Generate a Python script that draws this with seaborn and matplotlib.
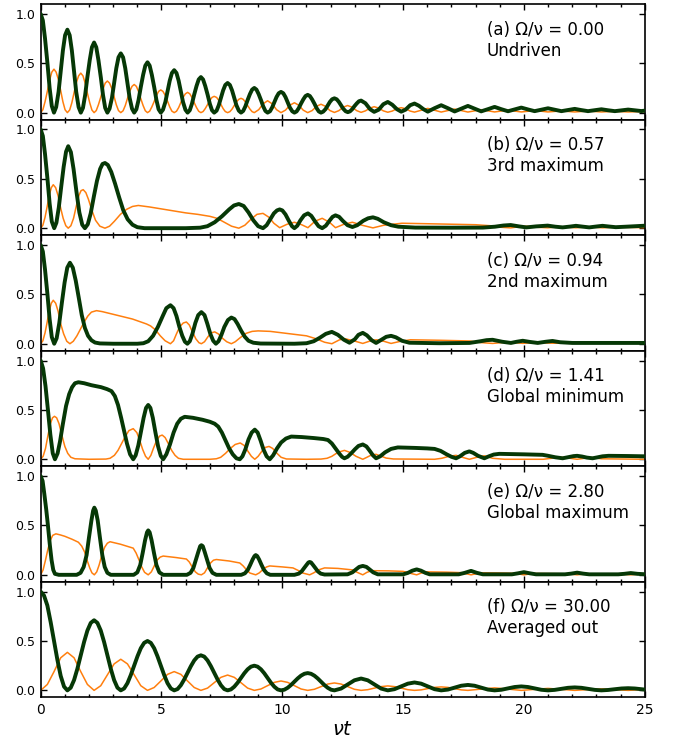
import matplotlib
matplotlib.use("Agg")
import matplotlib.pyplot as plt
import seaborn as sns
import pandas as pd
from matplotlib.ticker import MultipleLocator

# ---------------- data (time nu*t, value) ----------------
panel_labels = ["(a) Ω/ν = 0.00\nUndriven",
                "(b) Ω/ν = 0.57\n3rd maximum",
                "(c) Ω/ν = 0.94\n2nd maximum",
                "(d) Ω/ν = 1.41\nGlobal minimum",
                "(e) Ω/ν = 2.80\nGlobal maximum",
                "(f) Ω/ν = 30.00\nAveraged out"]

x_ticks = [0, 5, 10, 15, 20, 25]
y_ticks = [0.0, 0.5, 1.0]
y_tick_labels = ["0.0", "0.5", "1.0"]

green_a = [(0.0, 1.0), (0.09, 0.933), (0.18, 0.75), (0.28, 0.50), (0.37, 0.25), (0.46, 0.067), (0.55, 0.0),
           (0.64, 0.056), (0.74, 0.21), (0.83, 0.42), (0.92, 0.63), (1.01, 0.784), (1.105, 0.84),
           (1.20, 0.784), (1.29, 0.63), (1.38, 0.42), (1.47, 0.21), (1.57, 0.056), (1.66, 0.0),
           (1.75, 0.048), (1.84, 0.178), (1.93, 0.355), (2.03, 0.532), (2.12, 0.662), (2.21, 0.71),
           (2.30, 0.662), (2.39, 0.532), (2.49, 0.355), (2.58, 0.178), (2.67, 0.048), (2.76, 0.0),
           (2.85, 0.04), (2.95, 0.15), (3.04, 0.30), (3.13, 0.45), (3.22, 0.56), (3.315, 0.60),
           (3.41, 0.56), (3.50, 0.45), (3.59, 0.30), (3.68, 0.15), (3.78, 0.04), (3.87, 0.0),
           (3.96, 0.034), (4.05, 0.128), (4.14, 0.255), (4.24, 0.383), (4.33, 0.476), (4.42, 0.51),
           (4.51, 0.476), (4.60, 0.383), (4.70, 0.255), (4.79, 0.128), (4.88, 0.034), (4.97, 0.0),
           (5.06, 0.029), (5.16, 0.108), (5.25, 0.215), (5.34, 0.323), (5.43, 0.401), (5.525, 0.43),
           (5.62, 0.401), (5.71, 0.323), (5.80, 0.215), (5.89, 0.108), (5.99, 0.029), (6.08, 0.0),
           (6.17, 0.024), (6.26, 0.09), (6.35, 0.18), (6.45, 0.27), (6.54, 0.336), (6.63, 0.36),
           (6.72, 0.336), (6.81, 0.27), (6.91, 0.18), (7.00, 0.09), (7.09, 0.024), (7.18, 0.0),
           (7.28, 0.02), (7.37, 0.075), (7.46, 0.15), (7.55, 0.225), (7.64, 0.28), (7.735, 0.30),
           (7.83, 0.28), (7.92, 0.225), (8.01, 0.15), (8.10, 0.075), (8.20, 0.02), (8.29, 0.0),
           (8.38, 0.017), (8.47, 0.063), (8.56, 0.125), (8.66, 0.188), (8.75, 0.233), (8.84, 0.25),
           (8.93, 0.233), (9.02, 0.188), (9.12, 0.125), (9.21, 0.063), (9.30, 0.017), (9.39, 0.0),
           (9.49, 0.014), (9.58, 0.053), (9.67, 0.105), (9.76, 0.158), (9.85, 0.196), (9.945, 0.21),
           (10.04, 0.196), (10.13, 0.158), (10.22, 0.105), (10.31, 0.053), (10.41, 0.014), (10.50, 0.0),
           (10.59, 0.012), (10.68, 0.045), (10.77, 0.09), (10.87, 0.135), (10.96, 0.168), (11.05, 0.18),
           (11.14, 0.168), (11.23, 0.135), (11.33, 0.09), (11.42, 0.045), (11.51, 0.012), (11.60, 0.0),
           (11.69, 0.01), (11.79, 0.036), (11.88, 0.073), (11.97, 0.109), (12.06, 0.135), (12.155, 0.145),
           (12.25, 0.135), (12.34, 0.109), (12.43, 0.075), (12.52, 0.04), (12.62, 0.014), (12.71, 0.005),
           (12.80, 0.013), (12.89, 0.034), (12.98, 0.064), (13.08, 0.093), (13.17, 0.115), (13.26, 0.122),
           (13.44, 0.095), (13.63, 0.035), (13.8, 0.008), (13.99, 0.03), (14.18, 0.085), (14.365, 0.108),
           (14.55, 0.08), (14.74, 0.035), (14.92, 0.01), (15.1, 0.03), (15.29, 0.075), (15.47, 0.092),
           (15.65, 0.07), (15.84, 0.035), (16.02, 0.01), (16.3, 0.045), (16.575, 0.075), (16.85, 0.045),
           (17.13, 0.012), (17.4, 0.04), (17.68, 0.068), (17.96, 0.04), (18.23, 0.013), (18.51, 0.035),
           (18.785, 0.058), (19.06, 0.035), (19.34, 0.014), (19.61, 0.032), (19.89, 0.051), (20.17, 0.032),
           (20.44, 0.015), (20.72, 0.03), (20.995, 0.044), (21.27, 0.03), (21.55, 0.015), (21.82, 0.026),
           (22.1, 0.038), (22.37, 0.026), (22.65, 0.015), (22.93, 0.025), (23.205, 0.034), (23.48, 0.024),
           (23.76, 0.015), (24.03, 0.023), (24.31, 0.031), (24.59, 0.023), (24.86, 0.016), (25.0, 0.02)]

orange_a = [(0.0, 0.0), (0.09, 0.029), (0.18, 0.11), (0.28, 0.22), (0.37, 0.33), (0.46, 0.41), (0.55, 0.44),
            (0.64, 0.41), (0.74, 0.33), (0.83, 0.22), (0.92, 0.11), (1.01, 0.029), (1.105, 0.0),
            (1.20, 0.027), (1.29, 0.10), (1.38, 0.20), (1.47, 0.30), (1.57, 0.373), (1.66, 0.40),
            (1.75, 0.373), (1.84, 0.30), (1.93, 0.20), (2.03, 0.10), (2.12, 0.027), (2.21, 0.0),
            (2.30, 0.021), (2.39, 0.08), (2.49, 0.16), (2.58, 0.24), (2.67, 0.299), (2.76, 0.32),
            (2.85, 0.299), (2.95, 0.24), (3.04, 0.16), (3.13, 0.08), (3.22, 0.021), (3.315, 0.0),
            (3.41, 0.019), (3.50, 0.071), (3.59, 0.143), (3.68, 0.214), (3.78, 0.266), (3.87, 0.285),
            (3.96, 0.266), (4.05, 0.214), (4.14, 0.143), (4.24, 0.071), (4.33, 0.019), (4.42, 0.0),
            (4.51, 0.015), (4.60, 0.058), (4.70, 0.115), (4.79, 0.173), (4.88, 0.215), (4.97, 0.23),
            (5.06, 0.215), (5.16, 0.173), (5.25, 0.115), (5.34, 0.058), (5.43, 0.015), (5.525, 0.0),
            (5.62, 0.014), (5.71, 0.051), (5.80, 0.103), (5.89, 0.154), (5.99, 0.191), (6.08, 0.205),
            (6.17, 0.191), (6.26, 0.154), (6.35, 0.103), (6.45, 0.051), (6.54, 0.014), (6.63, 0.0),
            (6.72, 0.011), (6.81, 0.041), (6.91, 0.083), (7.00, 0.124), (7.09, 0.154), (7.18, 0.165),
            (7.28, 0.154), (7.37, 0.124), (7.46, 0.083), (7.55, 0.041), (7.64, 0.011), (7.735, 0.0),
            (7.83, 0.01), (7.92, 0.036), (8.01, 0.073), (8.10, 0.109), (8.20, 0.135), (8.29, 0.145),
            (8.38, 0.135), (8.47, 0.109), (8.56, 0.073), (8.66, 0.036), (8.75, 0.01), (8.84, 0.0),
            (9.024, 0.03), (9.208, 0.09), (9.39, 0.12), (9.577, 0.09), (9.761, 0.03),
            (9.945, 0.0), (10.129, 0.025), (10.313, 0.075), (10.5, 0.10), (10.682, 0.075), (10.866, 0.025),
            (11.05, 0.0), (11.234, 0.021), (11.418, 0.064), (11.6, 0.085), (11.787, 0.064), (11.971, 0.021),
            (12.155, 0.002), (12.339, 0.02), (12.523, 0.055), (12.7, 0.072), (12.89, 0.055), (13.08, 0.02),
            (13.26, 0.003), (13.44, 0.018), (13.63, 0.046), (13.8, 0.06), (13.99, 0.046), (14.18, 0.018),
            (14.365, 0.004), (14.55, 0.016), (14.74, 0.04), (14.92, 0.05), (15.1, 0.04), (15.29, 0.016),
            (15.47, 0.005), (15.75, 0.024), (16.02, 0.043), (16.3, 0.024), (16.575, 0.006), (16.85, 0.021),
            (17.13, 0.036), (17.4, 0.021), (17.68, 0.006), (17.96, 0.018), (18.23, 0.03), (18.51, 0.018),
            (18.785, 0.007), (19.06, 0.016), (19.34, 0.026), (19.61, 0.016), (19.89, 0.007), (20.17, 0.014),
            (20.44, 0.022), (20.72, 0.014), (20.995, 0.007), (21.27, 0.012), (21.55, 0.018), (21.82, 0.012),
            (22.1, 0.007), (22.37, 0.011), (22.65, 0.016), (22.93, 0.011), (23.205, 0.007), (23.48, 0.010),
            (23.76, 0.013), (24.03, 0.010), (24.31, 0.007), (24.59, 0.009), (24.86, 0.011), (25.0, 0.01)]

green_b = [(0.0, 1.0), (0.09, 0.933), (0.18, 0.75), (0.28, 0.5), (0.37, 0.25), (0.46, 0.067), (0.56, 0.0),
           (0.65, 0.055), (0.75, 0.21), (0.85, 0.42), (0.95, 0.62), (1.05, 0.775), (1.14, 0.83),
           (1.25, 0.77), (1.36, 0.60), (1.48, 0.37), (1.6, 0.16), (1.72, 0.035), (1.83, 0.0),
           (1.95, 0.04), (2.07, 0.15), (2.2, 0.32), (2.33, 0.48), (2.46, 0.60), (2.56, 0.65), (2.66, 0.66),
           (2.78, 0.64), (2.92, 0.57), (3.08, 0.45), (3.25, 0.31), (3.42, 0.18), (3.6, 0.09), (3.8, 0.035),
           (4.0, 0.01), (4.3, 0.0), (5.0, 0.0), (6.0, 0.0), (6.6, 0.005), (6.9, 0.02), (7.2, 0.06),
           (7.5, 0.12), (7.8, 0.19), (8.0, 0.23), (8.2, 0.245), (8.4, 0.225), (8.6, 0.16), (8.8, 0.08),
           (9.0, 0.02), (9.2, 0.0), (9.35, 0.03), (9.5, 0.09), (9.65, 0.15), (9.78, 0.18), (9.89, 0.19),
           (10.0, 0.18), (10.13, 0.14), (10.27, 0.075), (10.4, 0.02), (10.5, 0.0), (10.62, 0.025),
           (10.75, 0.08), (10.9, 0.13), (11.06, 0.15), (11.2, 0.125), (11.35, 0.07), (11.5, 0.02),
           (11.65, 0.0), (11.8, 0.025), (11.95, 0.075), (12.08, 0.115), (12.2, 0.13), (12.35, 0.115),
           (12.5, 0.075), (12.7, 0.03), (12.9, 0.012), (13.1, 0.03), (13.35, 0.075), (13.55, 0.1),
           (13.75, 0.11), (13.95, 0.095), (14.2, 0.06), (14.5, 0.03), (14.8, 0.015), (15.5, 0.006),
           (17.0, 0.005), (18.3, 0.006), (18.8, 0.015), (19.15, 0.027), (19.45, 0.032), (19.8, 0.018),
           (20.1, 0.008), (20.5, 0.018), (20.98, 0.026), (21.3, 0.015), (21.6, 0.008), (21.9, 0.016),
           (22.15, 0.024), (22.45, 0.015), (22.7, 0.008), (23.0, 0.017), (23.25, 0.024), (23.55, 0.016),
           (23.8, 0.01), (24.3, 0.016), (25.0, 0.025)]

orange_b = [(0.0, 0.0), (0.09, 0.03), (0.18, 0.11), (0.27, 0.22), (0.35, 0.33), (0.44, 0.41), (0.52, 0.44),
            (0.62, 0.41), (0.72, 0.33), (0.83, 0.2), (0.93, 0.1), (1.04, 0.025), (1.14, 0.0),
            (1.25, 0.025), (1.36, 0.1), (1.47, 0.22), (1.58, 0.33), (1.67, 0.38), (1.76, 0.39),
            (1.87, 0.36), (1.98, 0.29), (2.12, 0.18), (2.27, 0.08), (2.45, 0.02), (2.66, 0.0),
            (2.85, 0.02), (3.05, 0.07), (3.3, 0.14), (3.55, 0.19), (3.8, 0.22), (4.04, 0.23),
            (4.5, 0.215), (5.0, 0.195), (5.5, 0.175), (6.0, 0.155), (6.5, 0.14), (7.0, 0.12),
            (7.3, 0.1), (7.6, 0.06), (7.9, 0.02), (8.2, 0.0), (8.45, 0.03), (8.7, 0.09), (8.95, 0.14),
            (9.2, 0.15), (9.45, 0.11), (9.65, 0.05), (9.89, 0.005), (10.2, 0.04), (10.5, 0.06),
            (10.8, 0.035), (11.06, 0.005), (11.35, 0.07), (11.65, 0.10), (11.95, 0.06), (12.2, 0.005),
            (12.55, 0.04), (12.9, 0.06), (13.3, 0.03), (13.75, 0.003), (14.2, 0.03), (14.95, 0.05),
            (16.0, 0.045), (17.0, 0.04), (18.0, 0.035), (18.6, 0.025), (19.0, 0.01), (19.45, 0.003),
            (19.8, 0.015), (20.1, 0.02), (20.5, 0.01), (20.98, 0.004), (21.3, 0.01), (21.6, 0.014),
            (21.9, 0.008), (22.15, 0.004), (22.45, 0.009), (22.7, 0.012), (23.0, 0.008), (23.25, 0.004),
            (23.8, 0.01), (24.3, 0.008), (25.0, 0.005)]

green_c = [(0.0, 1.0), (0.09, 0.933), (0.18, 0.75), (0.28, 0.5), (0.37, 0.25), (0.46, 0.067), (0.56, 0.0),
           (0.66, 0.055), (0.77, 0.21), (0.88, 0.42), (0.99, 0.62), (1.1, 0.77), (1.21, 0.82),
           (1.33, 0.77), (1.45, 0.64), (1.58, 0.46), (1.7, 0.29), (1.83, 0.16), (1.96, 0.08),
           (2.1, 0.035), (2.25, 0.012), (2.45, 0.003), (3.0, 0.0), (4.0, 0.0), (4.25, 0.005),
           (4.45, 0.025), (4.65, 0.08), (4.85, 0.17), (5.05, 0.28), (5.2, 0.36), (5.37, 0.39),
           (5.5, 0.36), (5.62, 0.28), (5.74, 0.17), (5.86, 0.08), (5.97, 0.02), (6.07, 0.0),
           (6.17, 0.025), (6.28, 0.1), (6.4, 0.21), (6.52, 0.29), (6.65, 0.32), (6.78, 0.29),
           (6.9, 0.2), (7.02, 0.1), (7.14, 0.03), (7.25, 0.0), (7.36, 0.025), (7.48, 0.09),
           (7.6, 0.17), (7.75, 0.24), (7.89, 0.265), (8.02, 0.25), (8.15, 0.2), (8.3, 0.13),
           (8.45, 0.07), (8.6, 0.03), (8.8, 0.01), (9.1, 0.002), (10.5, 0.0), (11.0, 0.005),
           (11.3, 0.025), (11.55, 0.06), (11.8, 0.1), (12.05, 0.12), (12.3, 0.09), (12.55, 0.04),
           (12.78, 0.01), (13.0, 0.045), (13.15, 0.09), (13.33, 0.11), (13.5, 0.085), (13.7, 0.035),
           (13.88, 0.008), (14.1, 0.04), (14.3, 0.07), (14.5, 0.08), (14.7, 0.065), (14.95, 0.03),
           (15.26, 0.01), (16.5, 0.005), (17.75, 0.008), (18.2, 0.025), (18.45, 0.036), (18.7, 0.04),
           (19.1, 0.02), (19.46, 0.008), (19.7, 0.02), (19.95, 0.03), (20.25, 0.018), (20.57, 0.008),
           (20.9, 0.02), (21.18, 0.028), (21.5, 0.015), (22.0, 0.008), (25.0, 0.008)]

orange_c = [(0.0, 0.0), (0.09, 0.03), (0.18, 0.11), (0.27, 0.22), (0.35, 0.33), (0.44, 0.41), (0.52, 0.44),
            (0.62, 0.41), (0.72, 0.33), (0.83, 0.2), (0.95, 0.1), (1.08, 0.025), (1.21, 0.0),
            (1.35, 0.025), (1.5, 0.08), (1.65, 0.15), (1.8, 0.22), (1.95, 0.28), (2.1, 0.32),
            (2.31, 0.335), (2.55, 0.325), (2.8, 0.31), (3.3, 0.28), (3.8, 0.25), (4.38, 0.20),
            (4.55, 0.18), (4.75, 0.14), (4.95, 0.08), (5.15, 0.03), (5.37, 0.0), (5.5, 0.03),
            (5.62, 0.1), (5.75, 0.17), (5.9, 0.21), (6.03, 0.22), (6.15, 0.19), (6.28, 0.12),
            (6.42, 0.05), (6.55, 0.01), (6.65, 0.0), (6.78, 0.02), (6.92, 0.07), (7.06, 0.11),
            (7.2, 0.12), (7.35, 0.1), (7.5, 0.06), (7.7, 0.02), (7.89, 0.0), (8.05, 0.02),
            (8.25, 0.06), (8.5, 0.105), (8.75, 0.125), (9.0, 0.13), (9.5, 0.125), (10.0, 0.11),
            (10.5, 0.095), (11.0, 0.08), (11.4, 0.05), (11.75, 0.015), (12.05, 0.0), (12.37, 0.04),
            (12.6, 0.05), (12.95, 0.03), (13.33, 0.003), (13.6, 0.025), (13.88, 0.04), (14.2, 0.025),
            (14.5, 0.003), (14.9, 0.025), (15.3, 0.04), (16.5, 0.035), (17.75, 0.028), (18.2, 0.012),
            (18.7, 0.003), (19.1, 0.012), (19.46, 0.015), (19.95, 0.004), (20.3, 0.01), (20.57, 0.012),
            (21.18, 0.005), (22.0, 0.008), (25.0, 0.005)]

green_d = [(0.0, 1.0), (0.1, 0.92), (0.2, 0.74), (0.3, 0.5), (0.4, 0.25), (0.5, 0.06), (0.59, 0.0),
           (0.7, 0.06), (0.8, 0.18), (0.92, 0.36), (1.05, 0.54), (1.18, 0.66), (1.3, 0.73),
           (1.42, 0.77), (1.56, 0.78), (1.8, 0.77), (2.1, 0.75), (2.5, 0.73), (2.75, 0.71),
           (2.93, 0.69), (3.07, 0.64), (3.2, 0.55), (3.33, 0.42), (3.45, 0.29), (3.57, 0.16),
           (3.7, 0.05), (3.83, 0.0), (3.93, 0.04), (4.04, 0.14), (4.15, 0.28), (4.26, 0.42),
           (4.36, 0.52), (4.45, 0.55), (4.54, 0.52), (4.64, 0.42), (4.75, 0.27), (4.86, 0.13),
           (4.97, 0.035), (5.07, 0.0), (5.2, 0.05), (5.35, 0.15), (5.5, 0.27), (5.65, 0.36),
           (5.8, 0.41), (5.96, 0.43), (6.3, 0.42), (6.7, 0.40), (7.0, 0.38), (7.2, 0.36),
           (7.35, 0.33), (7.5, 0.27), (7.65, 0.19), (7.8, 0.11), (7.95, 0.05), (8.1, 0.01),
           (8.24, 0.0), (8.35, 0.03), (8.47, 0.1), (8.6, 0.2), (8.73, 0.27), (8.86, 0.30),
           (8.98, 0.27), (9.1, 0.19), (9.22, 0.1), (9.35, 0.03), (9.48, 0.0), (9.62, 0.04),
           (9.78, 0.11), (9.95, 0.17), (10.15, 0.21), (10.37, 0.23), (10.8, 0.225), (11.3, 0.215),
           (11.7, 0.205), (11.89, 0.195), (12.05, 0.16), (12.2, 0.11), (12.35, 0.06), (12.47, 0.025),
           (12.57, 0.01), (12.7, 0.025), (12.85, 0.06), (13.0, 0.1), (13.15, 0.135), (13.33, 0.15),
           (13.48, 0.13), (13.62, 0.085), (13.75, 0.04), (13.88, 0.01), (14.05, 0.03), (14.25, 0.07),
           (14.5, 0.105), (14.78, 0.12), (15.5, 0.115), (16.0, 0.11), (16.3, 0.105), (16.55, 0.085),
           (16.8, 0.05), (17.0, 0.025), (17.19, 0.01), (17.35, 0.03), (17.55, 0.065), (17.74, 0.08),
           (17.9, 0.065), (18.1, 0.035), (18.36, 0.01), (18.55, 0.03), (18.75, 0.048), (18.98, 0.055),
           (20.0, 0.05), (20.77, 0.045), (21.0, 0.035), (21.3, 0.02), (21.6, 0.01), (21.85, 0.022),
           (22.05, 0.032), (22.2, 0.035), (22.4, 0.028), (22.6, 0.017), (22.84, 0.01), (23.05, 0.02),
           (23.25, 0.03), (23.5, 0.035), (24.3, 0.033), (25.0, 0.03)]

orange_d = [(0.0, 0.0), (0.1, 0.03), (0.2, 0.11), (0.3, 0.24), (0.4, 0.36), (0.49, 0.42), (0.57, 0.435),
            (0.66, 0.42), (0.76, 0.36), (0.88, 0.24), (1.0, 0.13), (1.12, 0.06), (1.25, 0.02),
            (1.42, 0.005), (2.0, 0.0), (2.7, 0.002), (2.87, 0.01), (3.05, 0.04), (3.2, 0.09),
            (3.35, 0.16), (3.5, 0.23), (3.65, 0.29), (3.83, 0.31), (3.98, 0.27), (4.1, 0.19),
            (4.22, 0.1), (4.34, 0.03), (4.45, 0.0), (4.56, 0.04), (4.68, 0.12), (4.8, 0.19),
            (4.92, 0.235), (5.03, 0.245), (5.15, 0.22), (5.28, 0.16), (5.42, 0.09), (5.56, 0.04),
            (5.7, 0.01), (5.9, 0.0), (7.0, 0.0), (7.27, 0.005), (7.45, 0.02), (7.65, 0.06),
            (7.85, 0.11), (8.05, 0.15), (8.26, 0.165), (8.42, 0.14), (8.58, 0.08), (8.72, 0.03),
            (8.86, 0.0), (9.0, 0.03), (9.15, 0.08), (9.3, 0.12), (9.45, 0.13), (9.6, 0.11),
            (9.78, 0.06), (9.95, 0.02), (10.17, 0.003), (11.0, 0.0), (11.6, 0.002), (11.85, 0.01),
            (12.05, 0.03), (12.3, 0.07), (12.57, 0.09), (12.8, 0.07), (13.05, 0.03), (13.33, 0.0),
            (13.5, 0.02), (13.7, 0.045), (13.88, 0.05), (14.05, 0.035), (14.3, 0.012), (14.6, 0.003),
            (16.3, 0.0), (16.6, 0.01), (16.9, 0.03), (17.19, 0.04), (17.45, 0.02), (17.74, 0.0),
            (18.05, 0.02), (18.36, 0.035), (18.7, 0.01), (19.2, 0.0), (20.8, 0.0), (21.2, 0.012),
            (21.6, 0.02), (21.9, 0.01), (22.2, 0.0), (22.5, 0.01), (22.84, 0.018), (23.2, 0.005),
            (25.0, 0.0)]

green_e = [(0.0, 1.0), (0.08, 0.95), (0.15, 0.82), (0.23, 0.66), (0.3, 0.5), (0.38, 0.3), (0.45, 0.15),
           (0.52, 0.05), (0.59, 0.01), (0.75, 0.0), (1.49, 0.0), (1.65, 0.02), (1.78, 0.08),
           (1.9, 0.2), (2.0, 0.38), (2.1, 0.55), (2.17, 0.65), (2.22, 0.68), (2.28, 0.65),
           (2.36, 0.55), (2.45, 0.38), (2.55, 0.2), (2.65, 0.08), (2.76, 0.02), (2.9, 0.0),
           (3.85, 0.0), (4.0, 0.025), (4.12, 0.1), (4.22, 0.22), (4.32, 0.35), (4.4, 0.43),
           (4.45, 0.45), (4.51, 0.43), (4.59, 0.35), (4.69, 0.22), (4.79, 0.1), (4.91, 0.025),
           (5.07, 0.0), (6.05, 0.0), (6.2, 0.02), (6.32, 0.07), (6.42, 0.15), (6.52, 0.23),
           (6.6, 0.29), (6.65, 0.30), (6.71, 0.29), (6.79, 0.23), (6.89, 0.15), (6.99, 0.07),
           (7.11, 0.02), (7.27, 0.0), (8.3, 0.0), (8.45, 0.015), (8.57, 0.05), (8.67, 0.1),
           (8.77, 0.155), (8.85, 0.19), (8.9, 0.20), (8.96, 0.19), (9.04, 0.155), (9.14, 0.1),
           (9.24, 0.05), (9.36, 0.015), (9.5, 0.0), (10.5, 0.0), (10.68, 0.012), (10.8, 0.035),
           (10.9, 0.068), (11.0, 0.1), (11.08, 0.125), (11.13, 0.13), (11.19, 0.125), (11.27, 0.1),
           (11.37, 0.068), (11.47, 0.035), (11.59, 0.012), (11.75, 0.003), (12.7, 0.005), (12.9, 0.025),
           (13.05, 0.055), (13.18, 0.08), (13.33, 0.09), (13.48, 0.08), (13.61, 0.055), (13.76, 0.025),
           (13.95, 0.005), (15.0, 0.005), (15.2, 0.02), (15.38, 0.042), (15.56, 0.055), (15.74, 0.042),
           (15.92, 0.02), (16.1, 0.005), (17.3, 0.005), (17.55, 0.02), (17.81, 0.04), (18.05, 0.02),
           (18.3, 0.005), (19.5, 0.005), (19.75, 0.015), (20.0, 0.027), (20.25, 0.015), (20.5, 0.005),
           (21.7, 0.005), (21.95, 0.012), (22.2, 0.022), (22.45, 0.012), (22.7, 0.005), (23.9, 0.005),
           (24.15, 0.01), (24.42, 0.018), (24.7, 0.01), (25.0, 0.006)]

orange_e = [(0.0, 0.0), (0.1, 0.05), (0.2, 0.15), (0.3, 0.26), (0.4, 0.35), (0.5, 0.4), (0.63, 0.415),
            (0.8, 0.405), (1.0, 0.39), (1.3, 0.36), (1.56, 0.33), (1.7, 0.29), (1.82, 0.23),
            (1.93, 0.14), (2.03, 0.07), (2.12, 0.02), (2.22, 0.0), (2.32, 0.03), (2.42, 0.1),
            (2.53, 0.2), (2.65, 0.28), (2.76, 0.32), (2.87, 0.335), (3.3, 0.31), (3.83, 0.27),
            (3.95, 0.22), (4.07, 0.15), (4.18, 0.08), (4.3, 0.025), (4.45, 0.0), (4.58, 0.03),
            (4.7, 0.09), (4.82, 0.15), (4.95, 0.18), (5.07, 0.19), (5.6, 0.175), (6.03, 0.16),
            (6.15, 0.13), (6.27, 0.08), (6.4, 0.03), (6.52, 0.007), (6.65, 0.0), (6.78, 0.02),
            (6.9, 0.07), (7.03, 0.12), (7.15, 0.148), (7.27, 0.155), (7.8, 0.14), (8.24, 0.12),
            (8.38, 0.09), (8.52, 0.05), (8.66, 0.018), (8.9, 0.0), (9.05, 0.02), (9.2, 0.055),
            (9.35, 0.08), (9.48, 0.09), (10.0, 0.08), (10.44, 0.07), (10.65, 0.045), (10.85, 0.018),
            (11.13, 0.0), (11.3, 0.02), (11.5, 0.05), (11.75, 0.07), (12.3, 0.065), (12.9, 0.05),
            (13.1, 0.025), (13.33, 0.0), (13.5, 0.025), (13.7, 0.042), (14.4, 0.04), (15.0, 0.035),
            (15.3, 0.015), (15.56, 0.0), (15.75, 0.018), (15.95, 0.03), (16.8, 0.027), (17.4, 0.022),
            (17.81, 0.0), (18.2, 0.02), (19.0, 0.018), (19.6, 0.015), (20.0, 0.0), (20.4, 0.014),
            (21.2, 0.012), (21.8, 0.01), (22.2, 0.0), (22.6, 0.01), (23.5, 0.009), (24.0, 0.008),
            (24.42, 0.0), (24.8, 0.007), (25.0, 0.007)]

green_f = [(0.0, 1.0), (0.138, 0.96), (0.276, 0.86), (0.414, 0.69), (0.553, 0.50), (0.691, 0.31), (0.829, 0.146),
           (0.967, 0.038), (1.105, 0.0), (1.243, 0.027), (1.381, 0.104), (1.519, 0.219), (1.658, 0.355),
           (1.796, 0.49), (1.934, 0.606), (2.072, 0.683), (2.21, 0.71), (2.348, 0.683), (2.486, 0.606),
           (2.624, 0.49), (2.763, 0.355), (2.901, 0.219), (3.039, 0.104), (3.177, 0.027), (3.315, 0.0),
           (3.453, 0.019), (3.591, 0.073), (3.729, 0.155), (3.868, 0.25), (4.006, 0.345), (4.144, 0.427),
           (4.282, 0.481), (4.42, 0.50), (4.558, 0.481), (4.696, 0.427), (4.834, 0.345), (4.973, 0.25),
           (5.111, 0.155), (5.249, 0.073), (5.387, 0.019), (5.525, 0.0), (5.663, 0.013), (5.801, 0.052),
           (5.939, 0.11), (6.078, 0.178), (6.216, 0.245), (6.354, 0.303), (6.492, 0.342), (6.63, 0.355),
           (6.768, 0.342), (6.906, 0.303), (7.044, 0.245), (7.183, 0.178), (7.321, 0.11), (7.459, 0.052),
           (7.597, 0.013), (7.735, 0.0), (7.873, 0.0095), (8.011, 0.037), (8.149, 0.077), (8.288, 0.125),
           (8.426, 0.173), (8.564, 0.213), (8.702, 0.24), (8.84, 0.25), (8.978, 0.24), (9.116, 0.213),
           (9.254, 0.173), (9.393, 0.125), (9.531, 0.077), (9.669, 0.037), (9.807, 0.0095), (9.945, 0.0),
           (10.083, 0.0067), (10.221, 0.026), (10.359, 0.054), (10.498, 0.088), (10.636, 0.121),
           (10.774, 0.149), (10.912, 0.168), (11.05, 0.175), (11.188, 0.168), (11.326, 0.149),
           (11.464, 0.121), (11.603, 0.088), (11.741, 0.054), (11.879, 0.026), (12.017, 0.0067),
           (12.155, 0.0), (12.431, 0.018), (12.708, 0.06), (12.984, 0.102), (13.26, 0.12), (13.536, 0.102),
           (13.813, 0.06), (14.089, 0.018), (14.365, 0.0), (14.641, 0.012), (14.918, 0.04), (15.194, 0.068),
           (15.47, 0.08), (15.746, 0.068), (16.023, 0.04), (16.299, 0.012), (16.575, 0.0), (16.851, 0.008),
           (17.128, 0.028), (17.404, 0.047), (17.68, 0.055), (17.956, 0.047), (18.233, 0.028), (18.509, 0.008),
           (18.785, 0.0), (19.061, 0.006), (19.338, 0.02), (19.614, 0.034), (19.89, 0.04), (20.166, 0.034),
           (20.443, 0.02), (20.719, 0.006), (20.995, 0.0), (21.271, 0.005), (21.548, 0.015), (21.824, 0.026),
           (22.1, 0.03), (22.376, 0.026), (22.653, 0.015), (22.929, 0.005), (23.205, 0.0), (23.481, 0.004),
           (23.758, 0.011), (24.034, 0.019), (24.31, 0.022), (24.586, 0.019), (24.863, 0.011), (25.0, 0.008)]

orange_f = [(0.0, 0.0), (0.276, 0.06), (0.553, 0.19), (0.829, 0.33), (1.105, 0.385), (1.381, 0.33),
            (1.658, 0.19), (1.934, 0.06), (2.21, 0.0), (2.486, 0.047), (2.763, 0.158), (3.039, 0.268),
            (3.315, 0.315), (3.591, 0.268), (3.868, 0.158), (4.144, 0.047), (4.42, 0.0), (4.696, 0.029),
            (4.973, 0.095), (5.249, 0.162), (5.525, 0.19), (5.801, 0.162), (6.078, 0.095), (6.354, 0.029),
            (6.63, 0.0), (6.906, 0.023), (7.183, 0.078), (7.459, 0.132), (7.735, 0.155), (8.011, 0.132),
            (8.288, 0.078), (8.564, 0.023), (8.84, 0.0), (9.116, 0.014), (9.393, 0.048), (9.669, 0.081),
            (9.945, 0.095), (10.221, 0.081), (10.498, 0.048), (10.774, 0.014), (11.05, 0.0), (11.326, 0.011),
            (11.603, 0.038), (11.879, 0.064), (12.155, 0.075), (12.431, 0.064), (12.708, 0.038), (12.984, 0.011),
            (13.26, 0.0), (13.536, 0.007), (13.813, 0.023), (14.089, 0.038), (14.365, 0.045), (14.641, 0.038),
            (14.918, 0.023), (15.194, 0.007), (15.47, 0.0), (15.746, 0.005), (16.023, 0.018), (16.299, 0.03),
            (16.575, 0.035), (16.851, 0.03), (17.128, 0.018), (17.404, 0.005), (17.68, 0.0), (18.233, 0.013),
            (18.785, 0.025), (19.338, 0.013), (19.89, 0.0), (20.443, 0.01), (20.995, 0.02), (21.548, 0.01),
            (22.1, 0.0), (22.653, 0.008), (23.205, 0.015), (23.758, 0.008), (24.31, 0.0), (25.0, 0.01)]

green_series = [green_a, green_b, green_c, green_d, green_e, green_f]
orange_series = [orange_a, orange_b, orange_c, orange_d, orange_e, orange_f]

# ---------------- style ----------------
GREEN = "#063806"
ORANGE = "#ff7f0e"

sns.set_style("ticks")
plt.rcParams.update({
    "font.family": ["DejaVu Sans"],
    "mathtext.fontset": "dejavusans",
    "text.color": "black",
    "axes.labelcolor": "black",
    "axes.edgecolor": "black",
    "xtick.color": "black",
    "ytick.color": "black",
})

fig, axes = plt.subplots(6, 1, sharex=True, figsize=(6.78, 7.41), dpi=100)
fig.subplots_adjust(left=0.06, right=0.951, top=0.9946, bottom=0.059, hspace=0)

for ax, g, o, lab in zip(axes, green_series, orange_series, panel_labels):
    dg = pd.DataFrame(g, columns=["t", "v"])
    do = pd.DataFrame(o, columns=["t", "v"])
    sns.lineplot(data=do, x="t", y="v", ax=ax, color=ORANGE, lw=1.1,
                 estimator=None, sort=False, zorder=2, solid_joinstyle="round")
    sns.lineplot(data=dg, x="t", y="v", ax=ax, color=GREEN, lw=2.8,
                 estimator=None, sort=False, zorder=3, solid_joinstyle="round")
    ax.set_xlim(0, 25)
    ax.set_ylim(-0.07, 1.1)
    ax.set_yticks(y_ticks)
    ax.set_yticklabels(y_tick_labels)
    ax.set_xticks(x_ticks)
    ax.xaxis.set_minor_locator(MultipleLocator(1))
    ax.tick_params(which="both", direction="in", top=True, right=True, width=1.0)
    ax.tick_params(which="major", length=4.5)
    ax.tick_params(which="minor", length=2.5)
    ax.tick_params(axis="y", labelsize=9, pad=4)
    ax.tick_params(axis="x", labelsize=10, pad=4)
    for s in ax.spines.values():
        s.set_linewidth(1.2)
    ax.set_ylabel("")
    ax.set_xlabel("")
    ax.text(0.738, 0.855, lab, transform=ax.transAxes, ha="left", va="top", fontsize=12)

axes[-1].set_xticklabels([str(v) for v in x_ticks])
axes[-1].set_xlabel(r"$\nu t$", fontsize=14, labelpad=2)

fig.savefig("out.png", dpi=100)
